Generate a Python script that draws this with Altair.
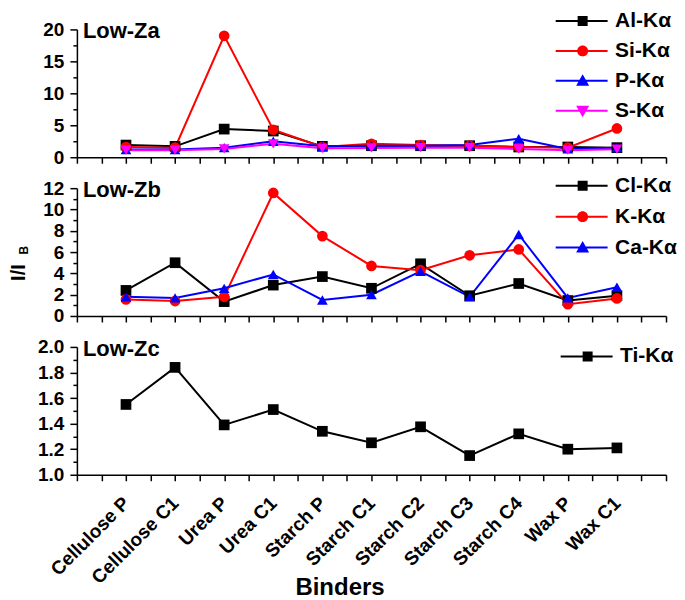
import json
import altair as alt
import pandas as pd

# ---------------- data ----------------
binders = ["Cellulose P", "Cellulose C1", "Urea P", "Urea C1", "Starch P",
           "Starch C1", "Starch C2", "Starch C3", "Starch C4", "Wax P", "Wax C1"]

# Low-Za
al_ka = [1.9, 1.7, 4.4, 4.1, 1.7, 1.8, 1.8, 1.8, 1.6, 1.6, 1.5]
si_ka = [1.6, 1.5, 19.0, 4.3, 1.6, 2.1, 1.9, 1.8, 1.6, 1.5, 4.5]
p_ka = [1.2, 1.2, 1.5, 2.5, 1.7, 1.8, 1.8, 1.9, 2.9, 1.3, 1.5]
s_ka = [1.1, 1.1, 1.3, 2.1, 1.4, 1.45, 1.5, 1.5, 1.3, 1.1, 1.25]

# Low-Zb
cl_ka = [2.4, 5.0, 1.35, 2.9, 3.7, 2.6, 4.9, 1.9, 3.05, 1.45, 1.9]
k_ka = [1.55, 1.4, 1.8, 11.55, 7.5, 4.7, 4.3, 5.7, 6.25, 1.1, 1.65]
ca_ka = [1.8, 1.7, 2.6, 3.9, 1.5, 2.0, 4.2, 1.8, 7.65, 1.7, 2.7]

# Low-Zc
ti_ka = [1.55, 1.84, 1.39, 1.51, 1.34, 1.25, 1.375, 1.15, 1.32, 1.2, 1.21]

FONT = "Liberation Sans"
U = 8.0  # legend symbol unit in px (size = (2U)^2)


def legend_path(marker):
    x0, x1, t = -1.0, 5.5, 1.0 / U
    cx = 2.375
    line = f"M{x0},{-t}H{x1}V{t}H{x0}Z"
    if marker == "square":
        h = 5.0 / U
        m = f"M{cx-h},{-h}H{cx+h}V{h}H{cx-h}Z"
    elif marker == "circle":
        r = 5.5 / U
        m = f"M{cx+r},0A{r},{r} 0 1,1 {cx-r},0A{r},{r} 0 1,1 {cx+r},0Z"
    elif marker == "triangle-up":
        w, tp, bt = 6.5 / U, -6.5 / U, 5.0 / U
        m = f"M{cx},{tp}L{cx+w},{bt}L{cx-w},{bt}Z"
    else:
        w, tp, bt = 6.5 / U, -5.0 / U, 6.5 / U
        m = f"M{cx-w},{tp}L{cx+w},{tp}L{cx},{bt}Z"
    return line + m


names_js = json.dumps(binders)


def make_panel(names, values, colors, shapes, ydom, major, minor, fmt,
               label, bottom, ytitle, leg_x, leg_y, row_pad):
    rows = []
    for s, vals in zip(names, values):
        for i, (b, v) in enumerate(zip(binders, vals)):
            rows.append({"binder": b, "pos": i + 1, "series": s, "value": v})
    df = pd.DataFrame(rows)

    xscale = alt.Scale(domain=[0, 12], nice=False, zero=False)
    yscale = alt.Scale(domain=ydom, nice=False, zero=False)

    def cscale():
        return alt.Scale(domain=names, range=colors)

    xticks = [i * 0.5 for i in range(25)]
    x_kwargs = dict(
        values=xticks, orient="bottom", grid=False, tickSize=6,
        labels=bottom, labelAngle=315, labelAlign="right", labelBaseline="middle",
        labelExpr=f"datum.value >= 1 && datum.value <= 11 && datum.value % 1 == 0 ? {names_js}[datum.value - 1] : ''",
        labelFontSize=19, labelPadding=19, labelOverlap=False, labelBound=False,
    )
    if bottom:
        x_kwargs.update(title="Binders", titleFontSize=24, titleY=113, titleX=263,
                        titleAlign="center", titleBaseline="middle")
    else:
        x_kwargs.update(title=None)
    x_axis = alt.Axis(**x_kwargs)
    y_major_kwargs = dict(values=major, orient="left", grid=False, tickSize=7,
                          format=fmt, labelFontSize=19, labelPadding=6)
    if ytitle:
        y_major_kwargs.update(title=ytitle, titleFontSize=20, titlePadding=14, titleY=84)
    else:
        y_major_kwargs.update(title=None)
    y_major = alt.Axis(**y_major_kwargs)
    y_minor = alt.Axis(values=minor, orient="left", grid=False, tickSize=4,
                       labels=False, domain=False, title=None)

    base = alt.Chart(df)
    line = base.mark_line(strokeWidth=2).encode(
        x=alt.X("pos:Q", scale=xscale, axis=x_axis),
        y=alt.Y("value:Q", scale=yscale, axis=y_major),
        color=alt.Color("series:N", scale=cscale(), legend=None),
    )
    pts = base.mark_point(filled=True, size=115, opacity=1).encode(
        x=alt.X("pos:Q", scale=xscale, axis=None),
        y=alt.Y("value:Q", scale=yscale, axis=y_minor),
        color=alt.Color("series:N", scale=cscale(), legend=None),
        shape=alt.Shape("series:N", scale=alt.Scale(domain=names, range=shapes), legend=None),
    )
    legend = alt.Legend(
        orient="none", legendX=leg_x, legendY=leg_y, title=None, padding=0,
        symbolSize=(2 * U) ** 2, symbolStrokeWidth=0, labelOffset=41,
        labelFontSize=21, labelFont=FONT, labelFontWeight="bold", labelColor="black",
        rowPadding=row_pad, symbolOpacity=1,
    )
    leg = base.transform_filter("false").mark_point(filled=True).encode(
        x=alt.X("pos:Q", scale=xscale, axis=None),
        y=alt.Y("value:Q", scale=yscale, axis=None),
        color=alt.Color("series:N", scale=cscale(), legend=legend),
        shape=alt.Shape("series:N",
                        scale=alt.Scale(domain=names, range=[legend_path(m) for m in shapes]),
                        legend=legend),
    )
    txt = alt.Chart(pd.DataFrame({"t": [label]})).mark_text(
        align="left", baseline="middle", fontSize=22, fontWeight="bold", font=FONT, color="black"
    ).encode(x=alt.value(6), y=alt.value(2), text="t:N")

    layers = [line, pts, leg, txt]
    if ytitle:
        sub = alt.Chart(pd.DataFrame({"t": ["B"]})).mark_text(
            align="center", baseline="middle", fontSize=12, fontWeight="bold", font=FONT,
            color="black", angle=270
        ).encode(x=alt.value(-53), y=alt.value(62), text="t:N")
        layers.append(sub)
    return alt.layer(*layers).resolve_scale(
        shape="independent", color="independent"
    ).resolve_axis(x="independent", y="independent").properties(width=590, height=128)


pa = make_panel(["Al-Kα", "Si-Kα", "P-Kα", "S-Kα"], [al_ka, si_ka, p_ka, s_ka],
                ["#000000", "#FF0000", "#0000FF", "#FF00FF"],
                ["square", "circle", "triangle-up", "triangle-down"],
                [0, 20], [0, 5, 10, 15, 20], [2.5, 7.5, 12.5, 17.5], "d",
                "Low-Za", False, None, 477, -19, 8)
pb = make_panel(["Cl-Kα", "K-Kα", "Ca-Kα"], [cl_ka, k_ka, ca_ka],
                ["#000000", "#FF0000", "#0000FF"],
                ["square", "circle", "triangle-up"],
                [0, 12], [0, 2, 4, 6, 8, 10, 12], [1, 3, 5, 7, 9, 11], "d",
                "Low-Zb", False, "I/I", 477, -13, 9)
pc = make_panel(["Ti-Kα"], [ti_ka], ["#000000"], ["square"],
                [1.0, 2.0], [1.0, 1.2, 1.4, 1.6, 1.8, 2.0],
                [1.1, 1.3, 1.5, 1.7, 1.9], ".1f",
                "Low-Zc", True, None, 482, -1, 9)

chart = alt.vconcat(pa, pb, pc, spacing=31, bounds="flush").resolve_scale(
    color="independent", shape="independent"
).configure_view(stroke=None).configure_axis(
    domainColor="black", tickColor="black", labelColor="black", titleColor="black",
    domainWidth=1.5, tickWidth=1.5, labelFont=FONT, titleFont=FONT,
    labelFontWeight="bold", titleFontWeight="bold",
).properties(padding={"left": 0, "top": 2, "right": 0, "bottom": 0})

chart.save("out.html", embed_options={"renderer": "svg", "actions": False})
